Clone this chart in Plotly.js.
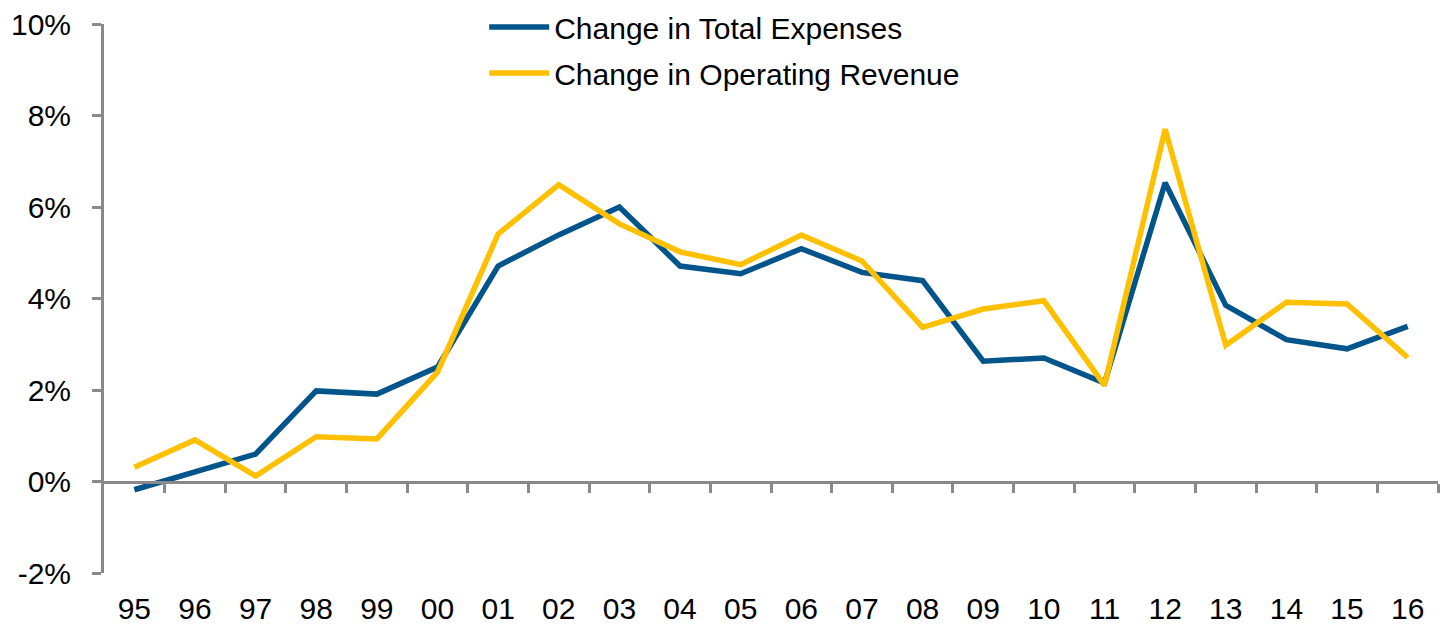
<!DOCTYPE html>
<html>
<head>
<meta charset="utf-8">
<script src="https://cdn.plot.ly/plotly-3.0.1.min.js"></script>
<style>
    html, body { margin: 0; padding: 0; background: #fff; }
    #chart { width: 1441px; height: 625px; }
</style>
</head>
<body>
<div id="chart"></div>
<script>
const years = ['95', '96', '97', '98', '99', '00', '01', '02', '03', '04', '05',
    '06', '07', '08', '09', '10', '11', '12', '13', '14', '15', '16'];

// % change
const totalExpenses = [-0.18, 0.22, 0.6, 1.98, 1.91, 2.5, 4.71, 5.39, 6.0, 4.71, 4.54,
    5.09, 4.57, 4.39, 2.63, 2.7, 2.15, 6.53, 3.85, 3.1, 2.9, 3.39];
const operatingRevenue = [0.31, 0.91, 0.12, 0.98, 0.93, 2.39, 5.41, 6.49, 5.63, 5.02, 4.74,
    5.39, 4.82, 3.37, 3.77, 3.95, 2.1, 7.7, 2.98, 3.92, 3.88, 2.71];

const yTicks = [-2, 0, 2, 4, 6, 8, 10];

const axisGrey = '#898989';
const font = { family: '"Liberation Sans", Arial, sans-serif', size: 30, color: '#000' };

const traces = [
    {
        x: years,
        y: totalExpenses,
        name: 'Change in Total Expenses',
        mode: 'lines',
        line: { color: '#02558b', width: 5.5 },
        legendgroup: 'a',
    },
    {
        x: years,
        y: operatingRevenue,
        name: 'Change in Operating Revenue',
        mode: 'lines',
        line: { color: '#ffc000', width: 5.5 },
        legendgroup: 'b',
    },
    // empty trace so the axis drawn at 0% has a subplot
    {
        x: [null],
        y: [null],
        xaxis: 'x2',
        mode: 'lines',
        showlegend: false,
        hoverinfo: 'skip',
    },
];

const layout = {
    width: 1441,
    height: 625,
    margin: { l: 104, r: 3, t: 24, b: 52, autoexpand: false },
    paper_bgcolor: '#fff',
    plot_bgcolor: '#fff',
    font: font,
    showlegend: true,
    legend: {
        x: 0.285,
        y: 1.042,
        xanchor: 'left',
        yanchor: 'top',
        bgcolor: 'rgba(0,0,0,0)',
        font: font,
        itemwidth: 60,
        tracegroupgap: 4,
    },
    xaxis: {
        type: 'category',
        categoryarray: years,
        range: [-0.5, years.length - 0.5],
        showline: false,
        showgrid: false,
        zeroline: false,
        ticks: '',
        ticklabelstandoff: 15,
        tickfont: font,
    },
    xaxis2: {
        overlaying: 'x',
        anchor: 'free',
        position: 2 / 12,
        range: [-0.5, years.length - 0.5],
        tickmode: 'array',
        tickvals: years.map((y, i) => i + 0.5),
        showticklabels: false,
        showline: true,
        linecolor: axisGrey,
        linewidth: 3,
        ticks: 'outside',
        ticklen: 9,
        tickwidth: 3,
        tickcolor: axisGrey,
        showgrid: false,
        zeroline: false,
    },
    yaxis: {
        range: [-2, 10],
        tickmode: 'array',
        tickvals: yTicks,
        ticktext: yTicks.map(v => v + '%'),
        showline: true,
        linecolor: axisGrey,
        linewidth: 3,
        ticks: 'outside',
        ticklen: 9,
        tickwidth: 3,
        tickcolor: axisGrey,
        showgrid: false,
        zeroline: false,
        ticklabelstandoff: 15,
        tickfont: font,
    },
};

Plotly.newPlot('chart', traces, layout, { displayModeBar: false, responsive: false });
</script>
</body>
</html>
